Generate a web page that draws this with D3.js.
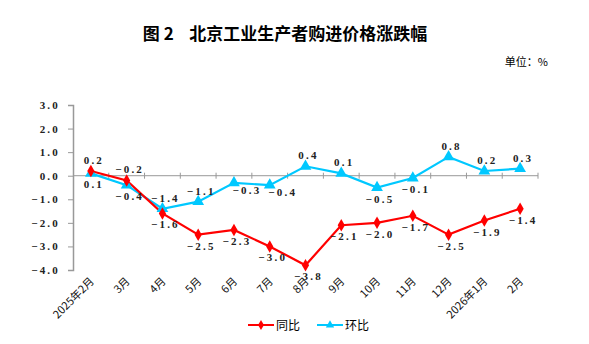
<!DOCTYPE html>
<html>
<head>
<meta charset="utf-8">
<script src="https://cdn.jsdelivr.net/npm/d3@7"></script>
<style>
  body { margin: 0; background: #fff; }
  svg text { font-family: "Liberation Serif", "DejaVu Serif", serif; }
  .cjk { font-family: "Noto Sans CJK SC", sans-serif; }
</style>
</head>
<body>
<div id="chart"></div>
<script>
const months = ["2025年2月", "3月", "4月", "5月", "6月", "7月", "8月", "9月", "10月", "11月", "12月", "2026年1月", "2月"]
const yoy = [0.2, -0.2, -1.6, -2.5, -2.3, -3.0, -3.8, -2.1, -2.0, -1.7, -2.5, -1.9, -1.4]
const mom = [0.1, -0.4, -1.4, -1.1, -0.3, -0.4, 0.4, 0.1, -0.5, -0.1, 0.8, 0.2, 0.3]
const yTicks = [3, 2, 1, 0, -1, -2, -3, -4]
// where each point label sits: a = above, b = below, r = right/below
const yoyLabelPos = ["a", "a", "b", "b", "b", "b", "b", "b", "b", "b", "b", "b", "b"]
const momLabelPos = ["b", "b", "a", "a", "r", "r", "a", "a", "b", "b", "a", "a", "a"]

const width = 589, height = 344
const svg = d3.select("#chart").append("svg")
    .attr("width", width)
    .attr("height", height)

svg.append("text")
    .attr("class", "cjk")
    .attr("x", 285).attr("y", 40)
    .attr("text-anchor", "middle")
    .style("font-size", "17px")
    .style("font-weight", "bold")
    .style("white-space", "pre")
    .text("图 2    北京工业生产者购进价格涨跌幅")

svg.append("text")
    .attr("class", "cjk")
    .attr("x", 548).attr("y", 66)
    .attr("text-anchor", "end")
    .style("font-size", "11px")
    .text("单位：%")

var x = d3.scaleBand().domain(months).range([73, 538])
var y = d3.scaleLinear().domain([-4, 3]).range([270, 105])

// y axis
var yAxis = svg.append("g")
    .attr("transform", "translate(73,0)")
    .call(d3.axisLeft(y).tickValues(yTicks).tickSize(5).tickFormat(d3.format(".1f")))
yAxis.select(".domain").attr("stroke", "#999").attr("stroke-width", 1.5)
yAxis.selectAll(".tick line").attr("stroke", "#999")
yAxis.selectAll("text")
    .attr("x", -13)
    .style("font-size", "11px")
    .style("font-weight", "bold")
    .style("letter-spacing", "2.2px")
    .attr("fill", "#222")

// zero line with category ticks
var zeroY = y(0)
svg.append("line")
    .attr("x1", 73).attr("x2", 538)
    .attr("y1", zeroY).attr("y2", zeroY)
    .attr("stroke", "#999").attr("stroke-width", 1)
months.forEach((m, i) => {
    var bx = x(m) + x.bandwidth()
    svg.append("line")
        .attr("x1", bx).attr("x2", bx)
        .attr("y1", zeroY - 3).attr("y2", zeroY + 3)
        .attr("stroke", "#999")
})

// x labels at the bottom
svg.selectAll(".xlab")
    .data(months)
    .enter()
    .append("text")
    .attr("class", "xlab cjk")
    .attr("transform", d => "translate(" + (x(d) + x.bandwidth() / 2 + 4) + ",282) rotate(-45)")
    .attr("text-anchor", "end")
    .style("font-size", "11px")
    .attr("fill", "#111")
    .text(d => d)

var cx = (d, i) => x(months[i]) + x.bandwidth() / 2
var line = d3.line().x(cx).y(d => y(d))

svg.append("path").datum(mom)
    .attr("d", line).attr("fill", "none")
    .attr("stroke", "#00c8ff").attr("stroke-width", 2.2)
svg.append("path").datum(yoy)
    .attr("d", line).attr("fill", "none")
    .attr("stroke", "#ff0000").attr("stroke-width", 2.2)

svg.selectAll(".tri").data(mom).enter().append("path")
    .attr("transform", (d, i) => "translate(" + cx(d, i) + "," + y(d) + ")")
    .attr("d", d3.symbol(d3.symbolTriangle, 60))
    .attr("fill", "#00c8ff")
svg.selectAll(".dia").data(yoy).enter().append("path")
    .attr("transform", (d, i) => "translate(" + cx(d, i) + "," + y(d) + ")")
    .attr("d", d3.symbol(d3.symbolDiamond, 45))
    .attr("fill", "#ff0000")

function labels(vals, pos) {
    svg.selectAll(null).data(vals).enter().append("text")
        .attr("x", (d, i) => cx(d, i) + (pos[i] === "r" ? 13 : 3))
        .attr("y", (d, i) => y(d) + (pos[i] === "a" ? -7 : pos[i] === "r" ? 11 : 15))
        .attr("text-anchor", "middle")
        .style("font-size", "11px")
        .style("font-weight", "bold")
        .style("letter-spacing", "2.2px")
        .attr("fill", "#222")
        .text(d => d3.format(".1f")(d))
}
labels(yoy, yoyLabelPos)
labels(mom, momLabelPos)

// legend
var lg = svg.append("g").attr("transform", "translate(248,325)")
lg.append("line").attr("x1", 0).attr("x2", 26).attr("stroke", "#ff0000").attr("stroke-width", 2)
lg.append("path").attr("transform", "translate(13,0)").attr("d", d3.symbol(d3.symbolDiamond, 30)).attr("fill", "#ff0000")
lg.append("text").attr("class", "cjk").attr("x", 28).attr("y", 5).style("font-size", "12px").text("同比")
lg.append("line").attr("x1", 69).attr("x2", 95).attr("stroke", "#00c8ff").attr("stroke-width", 2)
lg.append("path").attr("transform", "translate(82,0)").attr("d", d3.symbol(d3.symbolTriangle, 30)).attr("fill", "#00c8ff")
lg.append("text").attr("class", "cjk").attr("x", 97).attr("y", 5).style("font-size", "12px").text("环比")
</script>
</body>
</html>
